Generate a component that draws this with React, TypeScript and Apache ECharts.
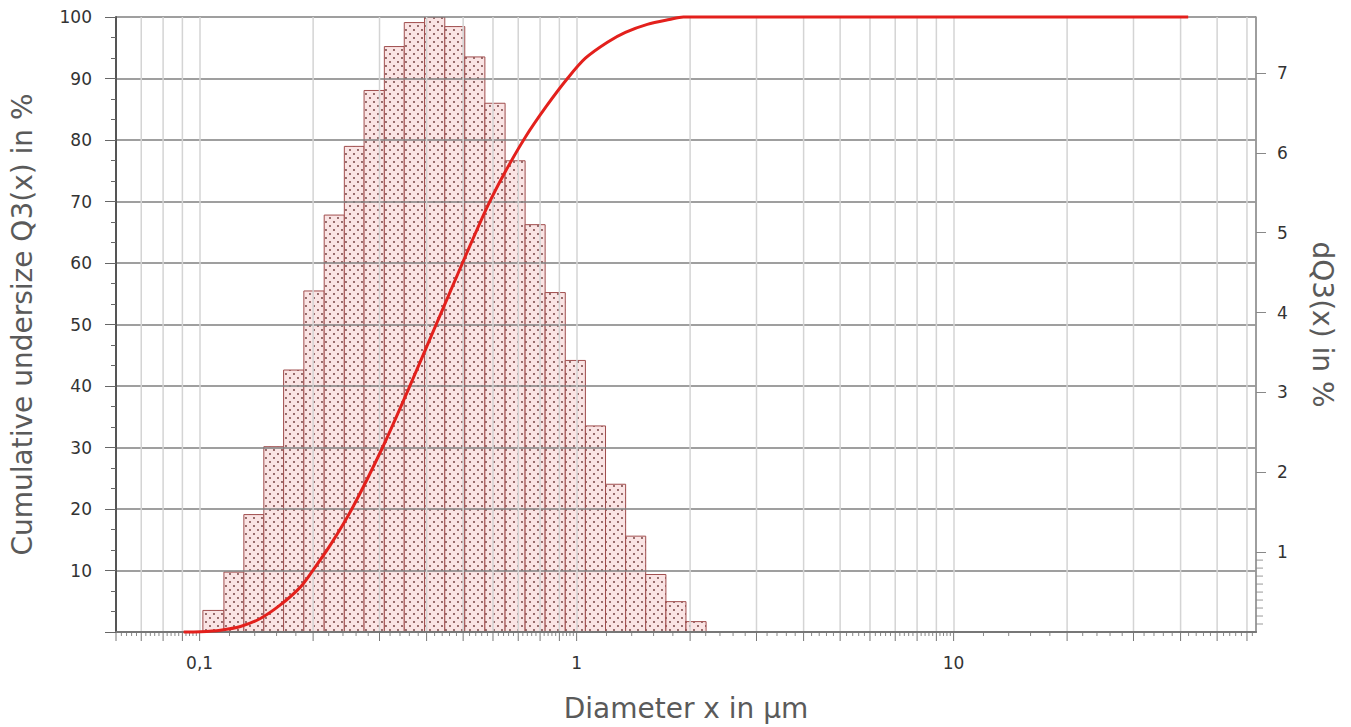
import React, { useEffect, useRef } from "react";
import * as echarts from "echarts";

// ---- data ----
// histogram bin edges (diameter, µm) on log axis
const binEdges = [
  0.102, 0.116, 0.131, 0.148, 0.167, 0.189, 0.214, 0.242, 0.273, 0.309, 0.349,
  0.395, 0.447, 0.505, 0.571, 0.646, 0.730, 0.825, 0.933, 1.055, 1.193, 1.349,
  1.525, 1.725, 1.950, 2.205,
];
// dQ3(x) in % per bin (right axis)
const binValues = [
  0.27, 0.75, 1.47, 2.32, 3.28, 4.27, 5.22, 6.08, 6.78, 7.33, 7.63, 7.7, 7.58,
  7.2, 6.62, 5.9, 5.1, 4.25, 3.4, 2.58, 1.85, 1.2, 0.72, 0.38, 0.13,
];
// cumulative undersize curve Q3(x)
const curveDiameters = [
  0.0907, 0.1005, 0.1135, 0.1283, 0.1449, 0.1637, 0.185, 0.1991, 0.2225, 0.2544,
  0.3056, 0.3581, 0.4173, 0.498, 0.5801, 0.6435, 0.7316, 0.8316, 0.9454, 1.055,
  1.207, 1.347, 1.54, 1.762, 1.92, 41.9,
];
const curveQ3 = [
  0, 0.05, 0.3, 0.9, 2.2, 4.4, 7.3, 9.9, 14.2, 20.2, 30, 39.5, 49, 60, 69.2,
  74.6, 80.5, 85.5, 90, 93.3, 95.9, 97.5, 98.8, 99.6, 100, 100,
];
// axis decoration values
const xMinorGrid = [
  0.07, 0.08, 0.09, 0.2, 0.3, 0.4, 0.5, 0.6, 0.7, 0.8, 0.9, 2, 3, 4, 5, 6, 7, 8,
  9, 20, 30, 40, 50, 60,
];
const xMajorTickMantissas = [1, 2, 3, 4, 5, 6, 7, 8, 9];
const xSubTickSteps = [0.2, 0.4, 0.6, 0.8];
const xDecades = [0.01, 0.1, 1, 10];
const rightMinorTicks = [0.1, 0.2, 0.3, 0.4, 0.5, 0.6, 0.7, 0.8, 0.9];

const X_MIN = 0.06;
const X_MAX = 63.4;
const Y1_MAX = 100;
const Y2_MAX = 7.7;
const FONT = "DejaVu Sans";

function makePattern(): HTMLCanvasElement {
  const c = document.createElement("canvas");
  c.width = 8;
  c.height = 8;
  const ctx = c.getContext("2d")!;
  ctx.fillStyle = "#fae4e4";
  ctx.fillRect(0, 0, 8, 8);
  ctx.fillStyle = "#6a3535";
  ctx.beginPath();
  ctx.arc(2, 2, 0.9, 0, Math.PI * 2);
  ctx.fill();
  ctx.beginPath();
  ctx.arc(6, 6, 0.9, 0, Math.PI * 2);
  ctx.fill();
  return c;
}

export default function App() {
  const ref = useRef<HTMLDivElement>(null);

  useEffect(() => {
    if (!ref.current) return;
    const chart = echarts.init(ref.current, null, { renderer: "svg" });
    const patternCanvas = makePattern();
    const pattern: any = {
      image: patternCanvas,
      repeat: "repeat",
      imageWidth: 8,
      imageHeight: 8,
    };

    const inRange = (v: number) => v >= X_MIN && v <= X_MAX;
    const majorTicks: number[] = [];
    const subTicks: number[] = [];
    xDecades.forEach((d) => {
      xMajorTickMantissas.forEach((m) => {
        const v = +(m * d).toPrecision(6);
        if (inRange(v)) majorTicks.push(v);
        xSubTickSteps.forEach((s) => {
          const w = +((m + s) * d).toPrecision(6);
          if (inRange(w)) subTicks.push(w);
        });
      });
    });

    const nameStyle = { fontSize: 28, color: "#5a5a5a", fontFamily: FONT };

    const option: any = {
      animation: false,
      backgroundColor: "#ffffff",
      textStyle: { fontFamily: FONT },
      grid: { left: 115, right: 95, top: 17, bottom: 93 },
      xAxis: [
        {
          type: "log",
          logBase: 10,
          min: X_MIN,
          max: X_MAX,
          position: "bottom",
          z: 3,
          name: "Diameter x in µm",
          nameLocation: "middle",
          nameGap: 62,
          nameTextStyle: nameStyle,
          axisLine: { show: true, lineStyle: { color: "#6b5858", width: 1.5 } },
          axisTick: { show: false },
          axisLabel: {
            fontSize: 17,
            color: "#333",
            margin: 22,
            showMinLabel: false,
            showMaxLabel: false,
            formatter: (v: number) =>
              String(+Number(v).toPrecision(6)).replace(".", ","),
          },
          splitLine: { show: true, lineStyle: { color: "#d4d4d4", width: 1.5 } },
        },
        {
          type: "log",
          logBase: 10,
          min: X_MIN,
          max: X_MAX,
          position: "top",
          z: 3,
          axisLine: { show: true, lineStyle: { color: "#777", width: 2 } },
          axisTick: { show: false },
          axisLabel: { show: false },
          splitLine: { show: false },
        },
      ],
      yAxis: [
        {
          type: "value",
          min: 0,
          max: Y1_MAX,
          interval: 10,
          position: "left",
          z: 3,
          name: "Cumulative undersize Q3(x) in %",
          nameLocation: "middle",
          nameGap: 80,
          nameTextStyle: nameStyle,
          axisLine: { show: true, lineStyle: { color: "#555", width: 2 } },
          axisTick: { show: true, length: 11, lineStyle: { color: "#666" } },
          minorTick: {
            show: true,
            splitNumber: 3,
            length: 5,
            lineStyle: { color: "#666" },
          },
          axisLabel: {
            fontSize: 17,
            color: "#333",
            margin: 24,
            showMinLabel: false,
          },
          splitLine: { show: true, lineStyle: { color: "#7f7f7f", width: 1.5 } },
        },
        {
          type: "value",
          min: 0,
          max: Y2_MAX,
          interval: 1,
          position: "right",
          z: 3,
          name: "dQ3(x) in %",
          nameLocation: "middle",
          nameRotate: -90,
          nameGap: 52,
          nameTextStyle: nameStyle,
          axisLine: { show: true, lineStyle: { color: "#888", width: 1.5 } },
          axisTick: { show: true, length: 10, lineStyle: { color: "#888" } },
          axisLabel: {
            fontSize: 17,
            color: "#333",
            margin: 21,
            showMinLabel: false,
            showMaxLabel: false,
          },
          splitLine: { show: false },
        },
      ],
      series: [
        {
          type: "custom",
          name: "dQ3",
          xAxisIndex: 0,
          yAxisIndex: 1,
          z: 2,
          silent: true,
          clip: true,
          data: binValues.map((v, i) => [binEdges[i], binEdges[i + 1], v]),
          encode: { x: [0, 1], y: 2 },
          renderItem: (_params: any, api: any) => {
            const tl = api.coord([api.value(0), api.value(2)]);
            const br = api.coord([api.value(1), 0]);
            return {
              type: "rect",
              shape: {
                x: tl[0],
                y: tl[1],
                width: br[0] - tl[0],
                height: br[1] - tl[1],
              },
              style: { fill: pattern, stroke: "#a04e4e", lineWidth: 1 },
            };
          },
        },
        {
          type: "custom",
          name: "decor",
          xAxisIndex: 0,
          yAxisIndex: 1,
          z: 3,
          silent: true,
          clip: false,
          data: [[1, 1]],
          encode: { x: 0, y: 1 },
          renderItem: (_params: any, api: any) => {
            const children: any[] = [];
            const yTop = api.coord([1, Y2_MAX])[1];
            const yBot = api.coord([1, 0])[1];
            xMinorGrid.forEach((v) => {
              const px = api.coord([v, 0])[0];
              children.push({
                type: "line",
                shape: { x1: px, y1: yTop, x2: px, y2: yBot },
                style: { stroke: "#d4d4d4", lineWidth: 1.5 },
              });
            });
            majorTicks.forEach((v) => {
              const px = api.coord([v, 0])[0];
              children.push({
                type: "line",
                shape: { x1: px, y1: yBot, x2: px, y2: yBot + 9 },
                style: { stroke: "#777", lineWidth: 1 },
              });
            });
            subTicks.forEach((v) => {
              const px = api.coord([v, 0])[0];
              children.push({
                type: "line",
                shape: { x1: px, y1: yBot, x2: px, y2: yBot + 4 },
                style: { stroke: "#888", lineWidth: 1 },
              });
            });
            const xRight = api.coord([X_MAX, 0])[0];
            rightMinorTicks.forEach((v) => {
              const py = api.coord([X_MAX, v])[1];
              children.push({
                type: "line",
                shape: { x1: xRight, y1: py, x2: xRight + 7, y2: py },
                style: { stroke: "#999", lineWidth: 1 },
              });
            });
            return { type: "group", children };
          },
        },
        {
          type: "line",
          name: "Q3",
          xAxisIndex: 0,
          yAxisIndex: 0,
          z: 5,
          silent: true,
          clip: false,
          showSymbol: false,
          symbol: "none",
          smooth: 0.3,
          data: curveDiameters.map((d, i) => [d, curveQ3[i]]),
          lineStyle: { color: "#e3201c", width: 3 },
        },
      ],
    };

    chart.setOption(option);
    return () => chart.dispose();
  }, []);

  return (
    <div
      ref={ref}
      style={{
        position: "fixed",
        left: 0,
        top: 0,
        width: 1351,
        height: 727,
        background: "#fff",
      }}
    />
  );
}
